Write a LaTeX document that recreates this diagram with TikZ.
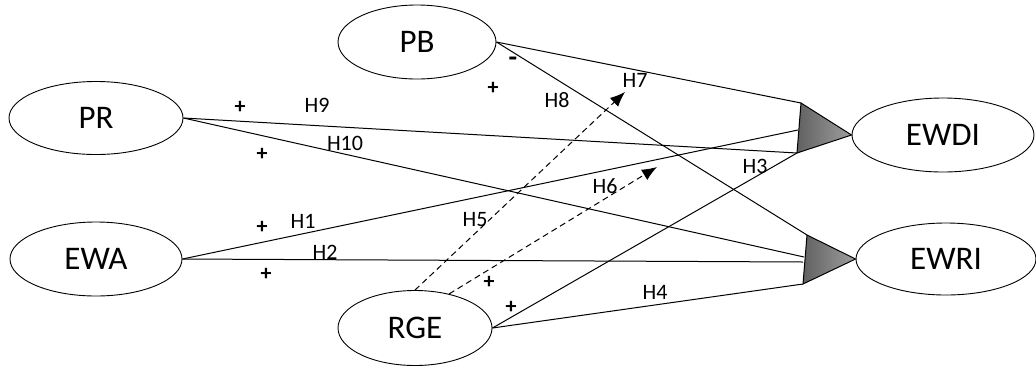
\documentclass[tikz,border=0pt]{standalone}
\usepackage{fontspec}
\setmainfont{Carlito}
\usetikzlibrary{shapes.geometric,arrows.meta}

\begin{document}
\begin{tikzpicture}[x=1pt,y=-1pt,
  latent/.style={ellipse,draw,line width=0.9pt,inner sep=0mm,font=\fontsize{33}{33}\selectfont},
  hlab/.style={inner sep=0mm,font=\fontsize{22}{22}\selectfont},
  link/.style={line width=1pt},
  wedge/.style={draw,line width=1pt,left color=black!62,right color=black!38}]
\useasboundingbox (0,0) rectangle (1036,368);
\foreach \x/\y/\w/\h/\n/\t in {417/42/158/74/pb/PB, 96/118/174/73/pr/PR, 96/259/172/74/ewa/EWA, 415/328/154/75/rge/RGE, 943/135/182/74/ewdi/EWDI, 946/259/180/72/ewri/EWRI}
  \node[latent,minimum width=\w,minimum height=\h] (\n) at (\x,\y) {\t};
\foreach \x/\y/\n in {801/103/t1a, 797/153/t1b, 798/130/t1m, 807/235/t2a, 803/284/t2b, 804/257/t2m, 803/262/t2n, 625/92/a7, 657/167/a6}
  \coordinate (\n) at (\x,\y);
\foreach \s/\t in {pb.east/t1a, pb.east/t2a, pr.east/t1b, pr.east/t2m, ewa.east/t1m, ewa.east/t2n, rge.east/t1b, rge.east/t2b}
  \draw[link] (\s) -- (\t);
\foreach \s/\t in {rge.north/a7, rge.45/a6}
  \draw[link,dash pattern=on 6pt off 4pt,-{Latex[length=15pt,width=12pt]}] (\s) -- (\t);
\path[wedge] (t1a) -- (t1b) -- (ewdi.west) -- cycle;
\path[wedge] (t2a) -- (t2b) -- (ewri.west) -- cycle;
\foreach \x/\y/\n/\t in {635/80/h7/H7, 557/100/h8/H8, 317/105/h9/H9, 345/143/h10/H10, 303/221/h1/H1, 325/252/h2/H2, 475/220/h5/H5, 605/186/h6/H6, 755/166/h3/H3, 655/292/h4/H4}
  \node[hlab] (\n) at (\x,\y) {\t};
\foreach \x/\y/\n/\t in {513/62/s8/\textbf{\fontsize{28}{28}\selectfont -}, 493/88/s7/\textbf{+}, 240/107/s9/\textbf{+}, 262/154/s10/\textbf{+}, 262/227/s1/\textbf{+}, 266/274/s2/\textbf{+}, 489/282/s6/\textbf{+}, 511/307/s3/\textbf{+}}
  \node[hlab] (\n) at (\x,\y) {\t};
\end{tikzpicture}
\end{document}
